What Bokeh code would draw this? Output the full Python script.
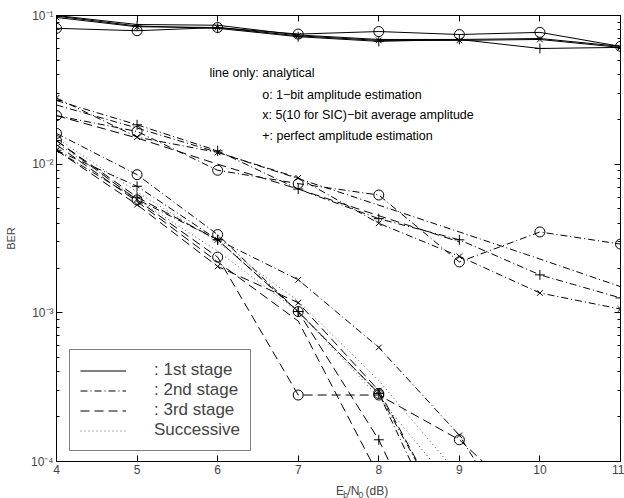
import math
from bokeh.plotting import figure
from bokeh.layouts import column
from bokeh.models import (Range1d, LinearAxis, LogAxis, FixedTicker, Label, Legend, LegendItem,
                          CustomJSTickFormatter)
from bokeh.embed import file_html
from bokeh.resources import INLINE

# ---------------- data ----------------
snr_db = [4, 5, 6, 7, 8, 9, 10, 11]
x_ticks = [4, 5, 6, 7, 8, 9, 10, 11]
y_exps = [-4, -3, -2, -1]

# 1st stage (solid)
st1_analytical = [0.100, 0.087, 0.086, 0.074, 0.069, 0.069, 0.070, 0.062]
st1_onebit = [0.082, 0.079, 0.083, 0.075, 0.078, 0.0745, 0.077, 0.062]
st1_avg = [0.097, 0.084, 0.083, 0.073, 0.068, 0.068, 0.069, 0.061]
st1_perfect = [0.099, 0.085, 0.082, 0.072, 0.067, 0.069, 0.060, 0.061]

# 2nd stage (dash-dot), upper group
st2u_analytical = [0.025, 0.0175, 0.0120, 0.0080, 0.0053, 0.0035, 0.0023, 0.0015]
st2u_onebit = [0.0212, 0.0166, 0.0091, 0.0074, 0.0062, 0.0022, 0.0035, 0.0029]
st2u_avg = [0.0279, 0.0152, 0.0120, 0.0081, 0.0040, 0.0024, 0.00136, 0.00106]
st2u_perfect = [0.0268, 0.0184, 0.0123, 0.0068, 0.0043, 0.0031, 0.0018, 0.00126]
# 3rd stage (dashed), upper group
st3u_analytical = [0.0212, 0.0150, 0.0100, 0.0068, 0.0045, 0.0030]

# 2nd stage (dash-dot), lower group
st2l_onebit = [0.0161, 0.0085, 0.00336, 0.00102, 0.000287, 0.00003]
st2l_avg = [0.0124, 0.0058, 0.0031, 0.00167, 0.000585, 0.00015, 0.00002]
st2l_perfect = [0.0124, 0.0071, 0.0031, 0.00102, 0.000287, 0.00002]
# 3rd stage (dashed), lower group
st3l_analytical = [0.0135, 0.0056, 0.0022, 0.00088, 0.00008]
st3l_onebit = [0.0144, 0.00575, 0.00237, 0.00028, 0.00028, 0.00014, 0.000044]
st3l_avg = [0.0124, 0.00534, 0.00205, 0.00117, 0.00030, 0.00003]
st3l_perfect = [0.0144, 0.0060, 0.0031, 0.00102, 0.00014, 0.00001]
# successive (dotted)
succ_a = [0.0140, 0.0058, 0.0026, 0.00102, 0.00027, 0.00006]
succ_b = [0.0150, 0.0065, 0.0030, 0.00120, 0.00035, 0.00008]

legend_labels = [": 1st stage", ": 2nd stage", ": 3rd stage", "Successive"]
notes = ["line only: analytical",
         "o: 1\u2212bit amplitude estimation",
         "x: 5(10 for SIC)\u2212bit average amplitude",
         "+: perfect amplitude estimation"]
y_label = "BER"
# x label pieces: (text, is_subscript)
x_label_parts = [("E", False), ("b", True), ("/N", False), ("0", True), ("(dB)", False)]

FONT = "Liberation Sans"
SOLID, DASHDOT, DASHED, DOTTED = "solid", "7 3 1 3", "9 5", "1 3"

# ---------------- main figure ----------------
p = figure(width=624, height=480, y_axis_type="log",
           x_range=Range1d(4, 11), y_range=Range1d(1e-4, 1e-1),
           output_backend="svg", toolbar_location=None,
           min_border_left=56, min_border_right=4, min_border_top=15, min_border_bottom=19)
p.grid.visible = False
p.outline_line_color = "black"
p.background_fill_color = "white"
p.border_fill_color = "white"

minor = [m * 10.0 ** e for e in y_exps[:-1] for m in range(2, 10)]
yt = FixedTicker(ticks=[10.0 ** e for e in y_exps], minor_ticks=minor)
xt = FixedTicker(ticks=x_ticks)
blank = CustomJSTickFormatter(code="return '';")
pow10 = CustomJSTickFormatter(code="""
const sup = {"-": "\u207b", "0": "\u2070", "1": "\u00b9", "2": "\u00b2", "3": "\u00b3",
             "4": "\u2074", "5": "\u2075", "6": "\u2076", "7": "\u2077", "8": "\u2078", "9": "\u2079"};
const e = Math.round(Math.log10(tick));
return "10" + String(e).split("").map(c => sup[c]).join("");
""")

for ax in p.xaxis:
    ax.ticker = xt
    ax.major_tick_in = 6
    ax.major_tick_out = 0
    ax.minor_tick_in = 0
    ax.minor_tick_out = 0
    ax.major_label_text_font = FONT
    ax.major_label_text_font_size = "12px"
    ax.major_label_standoff = 3
for ax in p.yaxis:
    ax.ticker = yt
    ax.formatter = pow10
    ax.major_tick_in = 6
    ax.major_tick_out = 0
    ax.minor_tick_in = 3
    ax.minor_tick_out = 0
    ax.major_label_text_font = FONT
    ax.major_label_text_font_size = "12px"
    ax.major_label_standoff = 3
    ax.axis_label = y_label
    ax.axis_label_text_font = FONT
    ax.axis_label_text_font_size = "11px"
    ax.axis_label_text_font_style = "normal"
    ax.axis_label_standoff = 11

top = LinearAxis(ticker=xt, formatter=blank, major_tick_in=6, major_tick_out=0, minor_tick_in=0,
                 minor_tick_out=0, major_label_standoff=0)
p.add_layout(top, "above")
right = LogAxis(ticker=yt, formatter=blank, major_tick_in=6, major_tick_out=0, minor_tick_in=3,
                minor_tick_out=0, major_label_standoff=0)
p.add_layout(right, "right")


def series(vals, dash, marker=None, color="black"):
    xs = snr_db[:len(vals)]
    r = p.line(xs, vals, line_color=color, line_width=1, line_dash=dash)
    if marker == "o":
        p.scatter(xs, vals, marker="circle", size=10, fill_color=None, line_color="black", line_width=1)
    elif marker == "x":
        p.scatter(xs, vals, marker="x", size=8, line_color="black", line_width=1)
    elif marker == "+":
        p.scatter(xs, vals, marker="cross", size=10, line_color="black", line_width=1)
    return r


r1 = series(st1_analytical, SOLID)
series(st1_onebit, SOLID, "o")
series(st1_avg, SOLID, "x")
series(st1_perfect, SOLID, "+")

r2 = series(st2u_analytical, DASHDOT)
series(st2u_onebit, DASHDOT, "o")
series(st2u_avg, DASHDOT, "x")
series(st2u_perfect, DASHDOT, "+")
series(st3u_analytical, DASHED)

series(st2l_onebit, DASHDOT, "o")
series(st2l_avg, DASHDOT, "x")
series(st2l_perfect, DASHDOT, "+")
r3 = series(st3l_analytical, DASHED)
series(st3l_onebit, DASHED, "o")
series(st3l_avg, DASHED, "x")
series(st3l_perfect, DASHED, "+")
r4 = series(succ_a, DOTTED, color="#555555")
series(succ_b, DOTTED, color="#555555")

legend = Legend(items=[LegendItem(label=lab, renderers=[r]) for lab, r in zip(legend_labels, [r1, r2, r3, r4])],
                location=(13, 10), orientation="vertical",
                label_text_font=FONT, label_text_font_size="17px",
                label_standoff=28, glyph_width=46, glyph_height=19, label_height=19,
                spacing=0, padding=10, margin=0,
                border_line_color="black", border_line_width=1,
                background_fill_color="white", background_fill_alpha=1)
p.add_layout(legend, "center")


def px2x(px):
    return 4 + (px - 56) / 80.57


def py2y(py):
    return 10 ** (-1 - (py - 15) / 148.67)


note_pos = [(209, 72.3), (261.7, 94.3), (261.7, 115), (261.7, 135.7)]
for t, (px, py) in zip(notes, note_pos):
    p.add_layout(Label(x=px2x(px), y=py2y(py), text=t, text_font=FONT, text_font_size="12.5px",
                       text_baseline="middle", text_align="left", text_color="black"))

# ---------------- x-axis title strip (E_b/N_0 with subscripts) ----------------
s = figure(width=624, height=18, x_range=Range1d(0, 624), y_range=Range1d(0, 18),
           output_backend="svg", toolbar_location=None, min_border=0)
s.axis.visible = False
s.grid.visible = False
s.outline_line_color = None
s.background_fill_color = "white"
s.border_fill_color = "white"

x_pos = [309.3, 317.3, 322.0, 334.0, 342.0]
for (t, sub), xp in zip(x_label_parts, x_pos):
    s.add_layout(Label(x=xp, y=4.0 if sub else 7.5, text=t, text_align="left", text_baseline="alphabetic",
                       text_font=FONT, text_font_size="8.5px" if sub else "12px"))

layout = column(p, s, spacing=0)
open("out.html", "w").write(file_html(layout, INLINE))
